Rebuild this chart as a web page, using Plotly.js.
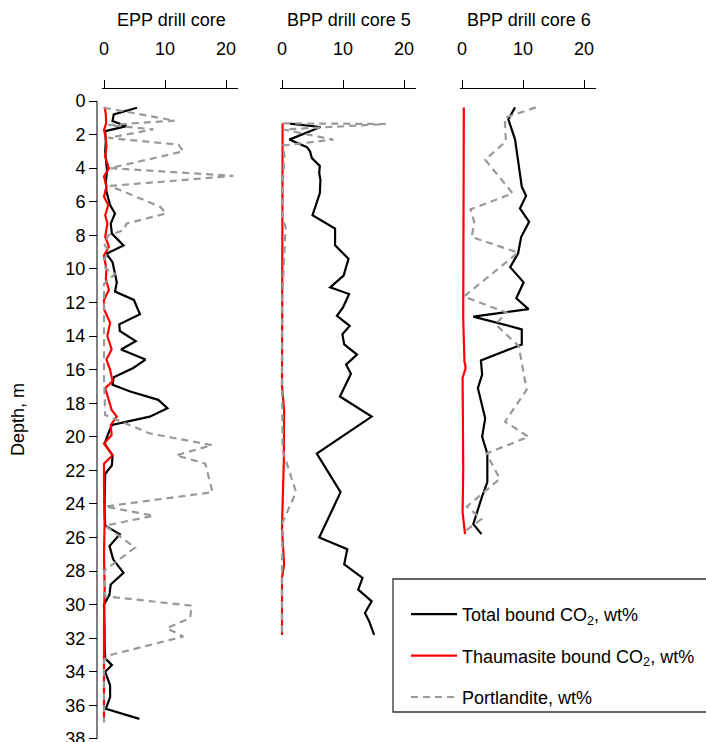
<!DOCTYPE html>
<html>
<head>
<meta charset="utf-8">
<script src="https://cdn.plot.ly/plotly-3.0.1.min.js"></script>
<style>html,body{margin:0;padding:0;background:#fff;}#chart{width:706px;height:742px;}</style>
</head>
<body>
<div id="chart"></div>
<script>
// ---------- DATA (depth in m, values in wt%) ----------
const panelTitles = ["EPP drill core", "BPP drill core 5", "BPP drill core 6"];
const seriesNames = ["Total bound CO<sub>2</sub>, wt%", "Thaumasite bound CO<sub>2</sub>, wt%", "Portlandite, wt%"];
const xTickVals = [0, 10, 20];
const depthTickVals = [0,2,4,6,8,10,12,14,16,18,20,22,24,26,28,30,32,34,36,38];

// EPP drill core
const eppTotalDepth = [0.4,0.8,1.2,1.5,1.8,2.4,3.0,3.6,4.2,4.8,5.4,6.2,6.7,7.3,7.9,8.6,9.1,9.6,10.8,11.35,11.85,12.7,13.3,13.7,14.3,14.8,15.4,15.9,16.45,16.9,17.3,17.8,18.3,18.8,19.1,19.3,19.9,20.4,21.1,21.7,22.2,23.0,23.8,24.6,25.3,25.8,26.5,27.3,28.1,28.8,29.4,30.0,30.8,31.6,32.4,33.2,33.6,34.0,34.8,35.5,36.2,36.8];
const eppTotal      = [5.4,1.6,1.4,3.7,0.2,0.3,0.2,0.4,0.5,0.3,0.4,1.0,1.8,1.1,1.3,3.2,0.4,1.4,2.1,1.8,4.9,5.9,2.5,2.6,5.2,2.8,6.8,4.8,1.6,1.4,4.3,8.9,10.4,7.5,3.7,1.3,0.6,0.1,1.4,1.3,0.2,0.1,0.1,0.1,0.2,2.6,0.9,1.5,3.2,1.1,0.9,0.0,0.1,0.1,0.1,0.2,1.3,0.2,1.0,1.0,0.3,5.8];
const eppThauDepth = [0.35,0.8,1.33,1.73,2.2,2.72,3.31,4.01,4.5,5.1,5.7,6.2,6.8,7.3,8.1,8.67,9.2,10.06,10.6,11.25,11.85,12.4,13.2,14.0,14.8,15.4,16.0,16.7,17.1,17.8,18.4,18.8,19.3,19.9,20.4,21.1,21.6,23.0,25.0,27.0,29.0,31.0,33.0,35.0,37.0];
const eppThau      = [0.1,0.3,0.35,0.0,0.3,0.4,0.2,0.8,0.0,0.4,0.0,0.7,0.2,0.55,0.2,0.8,0.0,0.4,0.3,0.8,0.0,0.0,1.0,0.55,1.25,0.4,1.0,1.4,0.2,0.7,1.25,2.1,1.1,1.25,0.0,1.4,0.0,0.0,0.1,0.0,0.1,0.0,0.0,0.1,0.0];
const eppPortDepth = [0.4,1.17,1.43,1.69,2.2,2.6,3.0,4.0,4.46,5.06,6.3,6.7,7.3,7.7,8.0,8.5,8.9,9.5,10.0,10.3,10.9,12.5,14.5,16.5,18.7,19.8,20.5,21.1,21.6,23.3,24.15,24.7,25.3,26.6,28.0,29.5,30.06,30.8,31.4,31.9,33.0,33.3,35.0,37.0];
const eppPort      = [0.0,11.6,0.7,8.1,0.7,12.2,13.0,1.0,21.2,1.0,9.2,10.2,3.7,3.2,0.7,0.0,0.7,0.0,0.3,1.8,0.0,0.0,0.1,0.0,0.2,7.5,17.7,11.8,16.6,17.8,0.2,8.1,0.2,5.1,0.0,0.2,14.4,14.1,10.3,13.0,1.0,0.0,0.0,0.0];

// BPP drill core 5
const bpp5TotalDepth = [1.35,1.55,2.3,2.75,3.0,3.4,3.87,4.3,4.7,5.5,6.8,7.6,8.6,9.4,10.4,11.1,11.5,12.3,12.8,13.4,13.9,14.5,15.1,15.7,16.25,17.6,18.8,21.0,23.3,26.0,26.7,27.6,28.4,29.1,29.8,30.5,31.0,31.8];
const bpp5Total      = [1.3,6.3,1.2,4.1,4.6,4.9,6.2,6.1,6.3,6.2,5.0,8.7,8.7,10.9,10.1,7.9,11.0,10.0,9.0,11.1,9.9,10.2,12.3,10.5,11.3,9.5,14.7,5.7,9.6,6.1,10.7,10.2,13.2,12.5,14.7,13.6,14.3,15.1];
const bpp5ThauDepth = [1.33,3.0,6.0,10.0,14.0,17.0,18.4,21.5,24.0,25.5,27.6,28.4,31.8];
const bpp5Thau      = [0.1,0.1,0.05,0.0,0.0,0.0,0.35,0.3,0.1,0.0,0.35,0.0,0.0];
const bpp5PortDepth = [1.33,1.37,1.7,2.3,2.65,3.3,5.0,7.0,7.5,9.6,10.5,12.0,16.0,20.8,23.3,25.1,28.0,31.8];
const bpp5Port      = [0.2,17.0,0.2,8.4,0.2,0.4,0.1,0.1,0.6,0.3,0.1,0.0,0.0,0.1,2.3,0.1,0.0,0.0];

// BPP drill core 6
const bpp6TotalDepth = [0.38,1.09,2.3,4.3,5.1,5.65,6.4,7.2,8.1,9.07,9.9,10.8,11.75,12.4,12.84,13.6,14.5,15.45,16.3,17.1,18.9,20.0,21.0,22.7,23.55,25.2,25.8];
const bpp6Total      = [8.7,7.6,8.7,9.5,9.8,10.5,9.5,11.0,9.7,9.2,7.9,10.1,8.9,10.9,1.85,9.8,9.8,3.1,3.3,2.6,3.8,3.3,4.15,4.15,3.3,1.85,3.2];
const bpp6ThauDepth = [0.38,3.0,6.0,9.0,11.65,13.0,15.5,15.9,16.5,19.0,22.0,24.5,25.8];
const bpp6Thau      = [0.3,0.3,0.2,0.2,0.3,0.2,0.4,0.6,0.1,0.2,0.2,0.1,0.5];
const bpp6PortDepth = [0.38,1.0,2.4,3.5,5.5,6.45,7.2,8.1,9.03,11.65,12.6,13.3,14.6,17.2,19.1,20.0,21.0,22.5,24.15,24.9,25.7];
const bpp6Port      = [12.1,7.0,7.2,3.8,8.3,1.4,2.0,1.6,9.2,0.3,7.3,5.5,9.3,10.6,7.05,10.9,4.0,6.2,0.8,3.2,0.2];

// ---------- STYLE ----------
const W = 706, H = 742;
const FONT = "Liberation Sans, Arial, Helvetica, sans-serif";
const px = v => v / W;
const py = v => 1 - v / H;
const colors = ["#000000", "#ff0000", "#999999"];
const dashes = ["solid", "solid", "7px,5px"];
const widths = [2.2, 2.2, 2.2];

const panels = [
  {xa: "x",  series: [[eppTotal, eppTotalDepth],[eppThau, eppThauDepth],[eppPort, eppPortDepth]]},
  {xa: "x2", series: [[bpp5Total, bpp5TotalDepth],[bpp5Thau, bpp5ThauDepth],[bpp5Port, bpp5PortDepth]]},
  {xa: "x3", series: [[bpp6Total, bpp6TotalDepth],[bpp6Thau, bpp6ThauDepth],[bpp6Port, bpp6PortDepth]]}
];

const traces = [];
panels.forEach((p, pi) => {
  p.series.forEach((s, si) => {
    traces.push({
      type: "scatter", mode: "lines",
      x: s[0], y: s[1],
      xaxis: p.xa, yaxis: "y",
      name: seriesNames[si],
      legendgroup: "g" + si,
      showlegend: pi === 0,
      line: {color: colors[si], width: widths[si], dash: dashes[si]},
      hoverinfo: "skip"
    });
  });
});

const zeroPx = [104, 282, 462];
const pxPerUnit = 6.1;
const xRange = [-0.3, 22];
function xAxis(i) {
  const left = zeroPx[i] + xRange[0] * pxPerUnit;
  const right = zeroPx[i] + xRange[1] * pxPerUnit;
  return {
    domain: [px(left), px(right)],
    range: xRange,
    side: "top",
    anchor: "free",
    position: py(88),
    tickvals: xTickVals,
    ticks: "outside", ticklen: 8, tickwidth: 1, tickcolor: "#000",
    showline: true, linecolor: "#000", linewidth: 1,
    showgrid: false, zeroline: false,
    tickfont: {family: FONT, size: 18, color: "#000"},
    ticklabelstandoff: 18,
    fixedrange: true
  };
}

const annotations = panelTitles.map((t, i) => ({
  text: t, xref: "paper", yref: "paper",
  x: px(zeroPx[i] + 11 * pxPerUnit), y: py(20),
  xanchor: "center", yanchor: "middle", showarrow: false,
  font: {family: FONT, size: 18, color: "#000"}
}));
annotations.push({
  text: "Depth, m", xref: "paper", yref: "paper",
  x: px(18), y: py(420), textangle: -90,
  xanchor: "center", yanchor: "middle", showarrow: false,
  font: {family: FONT, size: 18, color: "#000"}
});

const layout = {
  width: W, height: H,
  margin: {l: 0, r: 0, t: 0, b: 0, pad: 0},
  paper_bgcolor: "#fff", plot_bgcolor: "rgba(0,0,0,0)",
  showlegend: true,
  font: {family: FONT, size: 18, color: "#000"},
  xaxis: xAxis(0), xaxis2: xAxis(1), xaxis3: xAxis(2),
  yaxis: {
    domain: [py(741), py(101)],
    range: [38.12, 0],
    anchor: "free", position: px(97),
    tickvals: depthTickVals,
    ticks: "outside", ticklen: 8, tickwidth: 1, tickcolor: "#000",
    showline: false,
    showgrid: false, zeroline: false,
    ticklabeloverflow: "allow",
    tickfont: {family: FONT, size: 18, color: "#000"},
    fixedrange: true
  },
  shapes: [
    // y axis line spanning from first to last tick (0 to 38)
    {type: "line", xref: "paper", yref: "y", x0: px(97), x1: px(97), y0: 0, y1: 38,
     line: {color: "#000", width: 1}},
    // legend frame (extends past the right edge as in the reference)
    {type: "rect", xref: "paper", yref: "paper", x0: px(393), x1: px(730), y0: py(579), y1: py(712),
     fillcolor: "#fff", line: {color: "#333", width: 1.3}, layer: "above"}
  ],
  legend: {
    x: px(406), y: py(596), xanchor: "left", yanchor: "top",
    bgcolor: "rgba(0,0,0,0)", borderwidth: 0,
    font: {family: FONT, size: 18, color: "#000"},
    traceorder: "grouped", tracegroupgap: 15,
    itemwidth: 46
  },
  annotations: annotations
};

Plotly.newPlot("chart", traces, layout, {staticPlot: true, displayModeBar: false});
</script>
</body>
</html>
